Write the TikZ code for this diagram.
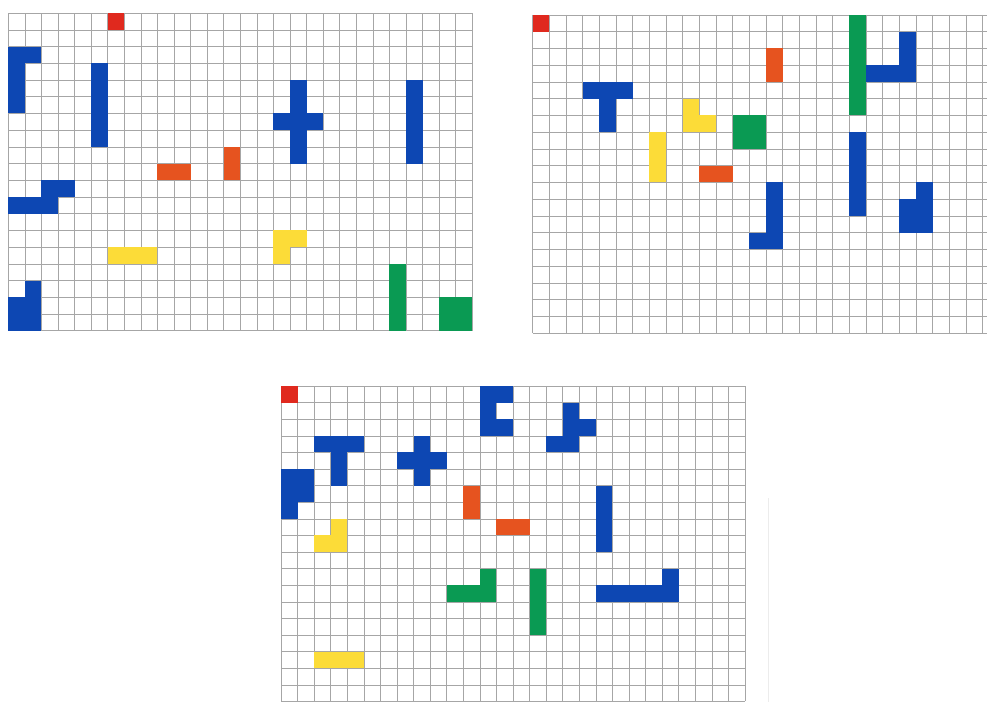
\documentclass[tikz,border=0pt]{standalone}
\definecolor{tred}{HTML}{E0291E}
\definecolor{torange}{HTML}{E6531F}
\definecolor{tyellow}{HTML}{FCDC38}
\definecolor{tgreen}{HTML}{0A9A53}
\definecolor{tblue}{HTML}{0D47B3}
\definecolor{gridgray}{HTML}{A6A6A6}
\tikzset{gridline/.style={draw=gridgray,line width=0.45pt}}
\newcommand\putcells[2]{\foreach \c/\r in {#2} \fill[#1] (\c,\r) rectangle ++(1,1);}
\newcommand\gridlines[3]{%
  \foreach \i in {0,...,#1} \draw[gridline] (\i,0) -- (\i,19);
  \foreach \j in {0,...,19} \draw[gridline] (0,\j) -- (#3,\j);}
\begin{document}
\begin{tikzpicture}
\useasboundingbox[fill=white] (0,0) rectangle (740.25pt,-526.5pt);
% Grid 1
\begin{scope}[xshift=6.225pt,yshift=-9.975pt,x=12.43pt,y=-12.525pt]
\gridlines{28}{19}{28}
\putcells{tred}{6/0}
\putcells{torange}{9/9,10/9,13/8,13/9}
\putcells{tblue}{0/2,1/2,0/3,0/4,0/5, 5/3,5/4,5/5,5/6,5/7, 17/4,17/5,16/6,17/6,18/6,17/7,17/8, 24/4,24/5,24/6,24/7,24/8, 2/10,3/10,0/11,1/11,2/11, 1/16,1/17,1/18,0/17,0/18}
\putcells{tyellow}{6/14,7/14,8/14, 16/13,17/13,16/14}
\putcells{tgreen}{23/15,23/16,23/17,23/18, 26/17,27/17,26/18,27/18}
\end{scope}
% Grid 2
\begin{scope}[xshift=399.5pt,yshift=-11.25pt,x=12.5pt,y=-12.56pt]
\gridlines{27}{19}{27.25}
\putcells{tred}{0/0}
\putcells{torange}{14/2,14/3, 10/9,11/9}
\putcells{tyellow}{9/5,9/6,10/6, 7/7,7/8,7/9}
\putcells{tgreen}{12/6,13/6,12/7,13/7, 19/0,19/1,19/2,19/3,19/4,19/5}
\putcells{tblue}{3/4,4/4,5/4,4/5,4/6, 20/3,21/3,22/3,22/1,22/2, 19/7,19/8,19/9,19/10,19/11, 14/10,14/11,14/12,14/13,13/13, 23/10,22/11,23/11,22/12,23/12}
\end{scope}
% Grid 3
\begin{scope}[xshift=210.75pt,yshift=-289.5pt,x=12.43pt,y=-12.45pt]
\gridlines{28}{19}{28}
\putcells{tred}{0/0}
\putcells{torange}{11/6,11/7, 13/8,14/8}
\putcells{tyellow}{3/8,2/9,3/9, 2/16,3/16,4/16}
\putcells{tgreen}{10/12,11/12,12/12,12/11, 15/11,15/12,15/13,15/14}
\putcells{tblue}{2/3,3/3,4/3,3/4,3/5, 0/5,1/5,0/6,1/6,0/7, 8/3,7/4,8/4,9/4,8/5, 12/0,13/0,12/1,12/2,13/2, 17/1,18/2,17/2,16/3,17/3, 19/6,19/7,19/8,19/9, 19/12,20/12,21/12,22/12,23/11,23/12}
\end{scope}
% faint paper edge
\draw[gray!15,line width=0.5pt] (576pt,-373.5pt) -- (576pt,-526.5pt);
\end{tikzpicture}
\end{document}
